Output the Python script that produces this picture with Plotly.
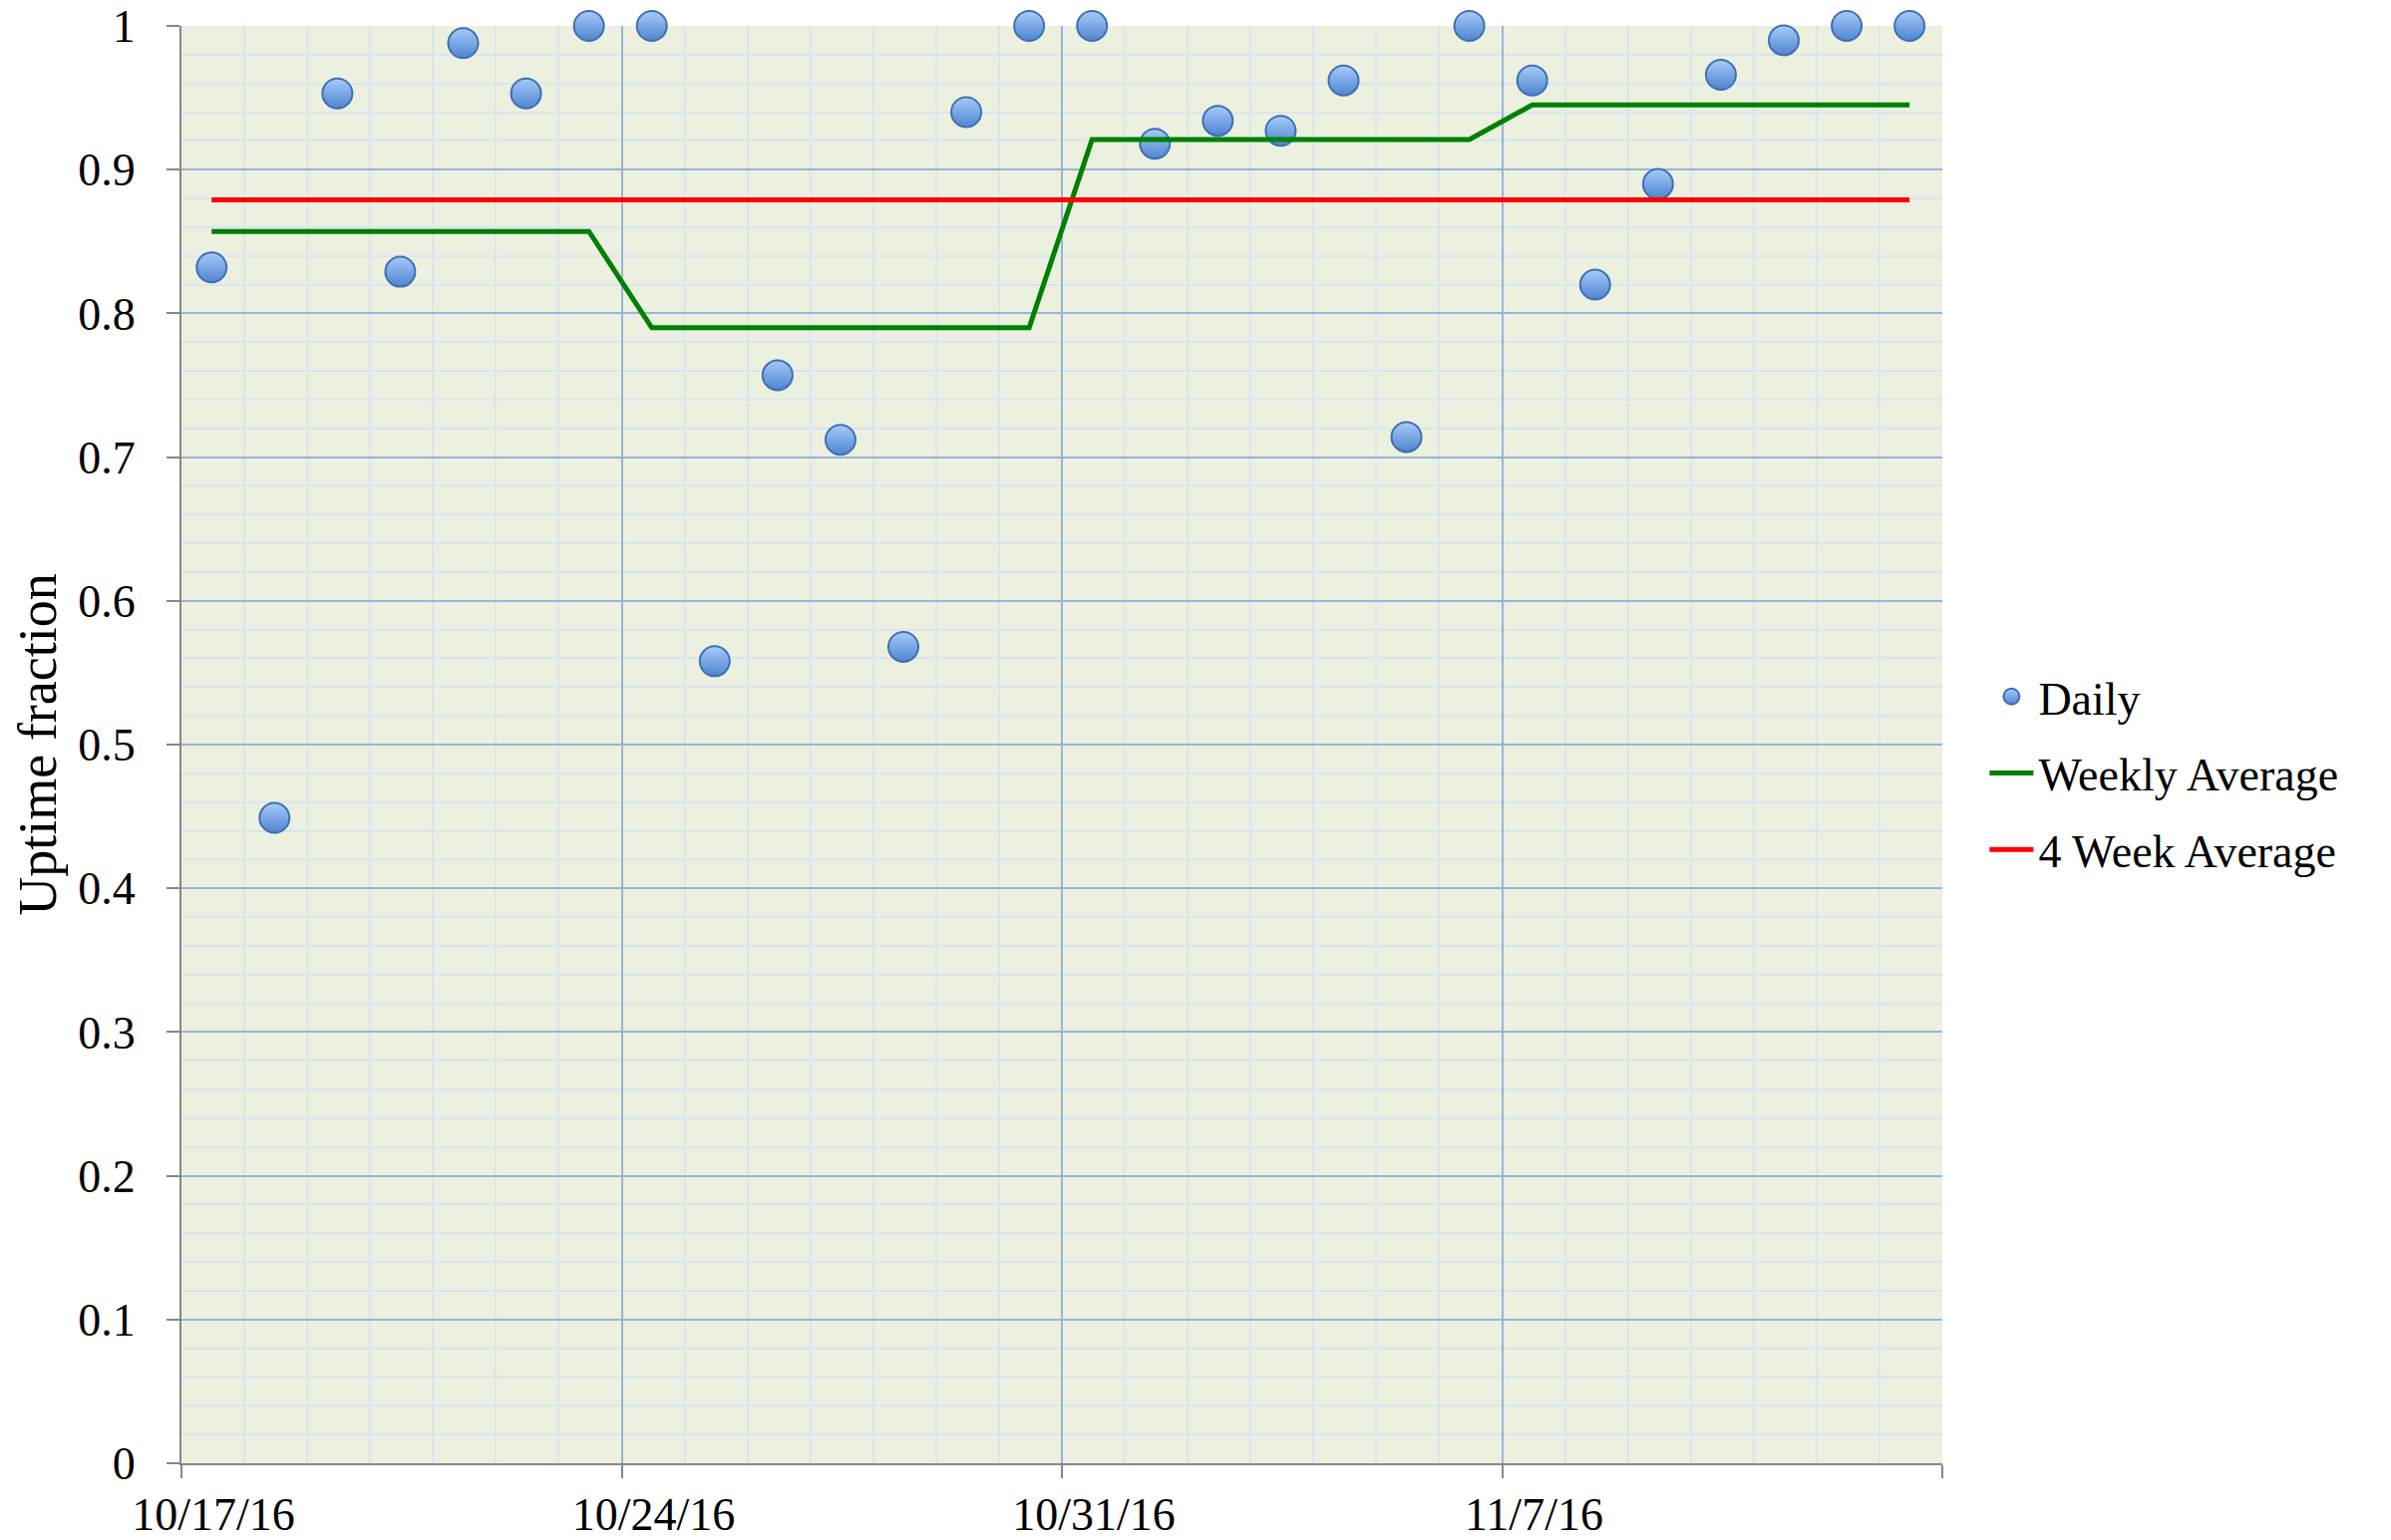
import plotly.graph_objects as go

# ---- data ----
days = [
    "2016-10-17 11:30", "2016-10-18 11:30", "2016-10-19 11:30", "2016-10-20 11:30",
    "2016-10-21 11:30", "2016-10-22 11:30", "2016-10-23 11:30",
    "2016-10-24 11:30", "2016-10-25 11:30", "2016-10-26 11:30", "2016-10-27 11:30",
    "2016-10-28 11:30", "2016-10-29 11:30", "2016-10-30 11:30",
    "2016-10-31 11:30", "2016-11-01 11:30", "2016-11-02 11:30", "2016-11-03 11:30",
    "2016-11-04 11:30", "2016-11-05 11:30", "2016-11-06 11:30",
    "2016-11-07 11:30", "2016-11-08 11:30", "2016-11-09 11:30", "2016-11-10 11:30",
    "2016-11-11 11:30", "2016-11-12 11:30", "2016-11-13 11:30",
]
daily = [0.832, 0.449, 0.953, 0.829, 0.988, 0.953, 1.000,
         1.000, 0.558, 0.757, 0.712, 0.568, 0.940, 1.000,
         1.000, 0.918, 0.934, 0.927, 0.962, 0.714, 1.000,
         0.962, 0.820, 0.890, 0.966, 0.990, 1.000, 1.000]
weekly_avg = [0.857, 0.857, 0.857, 0.857, 0.857, 0.857, 0.857,
              0.790, 0.790, 0.790, 0.790, 0.790, 0.790, 0.790,
              0.921, 0.921, 0.921, 0.921, 0.921, 0.921, 0.921,
              0.945, 0.945, 0.945, 0.945, 0.945, 0.945, 0.945]
four_week_avg = [0.879] * 28

tick_dates = ["2016-10-17", "2016-10-24", "2016-10-31", "2016-11-07", "2016-11-14"]
tick_text = ["10/17/16", "10/24/16", "10/31/16", "11/7/16", ""]

FONT = "Liberation Serif, Times New Roman, serif"
MAJOR_GRID = "#98B4D8"
MINOR_GRID = "#DAE5F2"
AXIS_GRAY = "#878787"

fig = go.Figure()
fig.add_trace(go.Scatter(
    x=days, y=daily, mode="markers", name="Daily", legendgroup="a",
    marker=dict(size=30, color="#A7CBFA",
                gradient=dict(type="vertical", color="#4E84CF"),
                line=dict(color="#3F6FB3", width=2)),
    cliponaxis=False,
))
fig.add_trace(go.Scatter(
    x=days, y=weekly_avg, mode="lines", name="Weekly Average", legendgroup="b",
    line=dict(color="#008000", width=5),
))
fig.add_trace(go.Scatter(
    x=days, y=four_week_avg, mode="lines", name="4 Week Average", legendgroup="c",
    line=dict(color="#FF0000", width=5),
))

fig.update_layout(
    width=2390, height=1537,
    margin=dict(l=174, r=450, t=18, b=77, autoexpand=False),
    paper_bgcolor="white",
    plot_bgcolor="#EBF0DF",
    font=dict(family=FONT, size=46, color="black"),
    legend=dict(x=1.024, xanchor="left", y=0.48, yanchor="middle",
                font=dict(size=46), traceorder="grouped", tracegroupgap=14,
                bgcolor="rgba(0,0,0,0)", itemwidth=44),
    showlegend=True,
)
fig.update_xaxes(
    type="date", automargin=False,
    range=["2016-10-17", "2016-11-14"],
    tickmode="array", tickvals=tick_dates, ticktext=tick_text,
    ticks="outside", ticklen=13, tickwidth=2, tickcolor=AXIS_GRAY,
    ticklabelshift=32, ticklabelstandoff=-3, ticklabeloverflow="allow",
    showline=True, linecolor=AXIS_GRAY, linewidth=2,
    showgrid=True, gridcolor=MAJOR_GRID, gridwidth=2,
    minor=dict(tickmode="linear", dtick=86400000, tick0="2016-10-17", showgrid=True,
               gridcolor=MINOR_GRID, gridwidth=2, ticks=""),
    zeroline=False,
)
fig.update_yaxes(
    automargin=False,
    range=[0, 1], tickmode="linear", dtick=0.1, tick0=0,
    ticks="outside", ticklen=13, tickwidth=2, tickcolor=AXIS_GRAY,
    ticklabelstandoff=22, ticklabeloverflow="allow",
    showline=True, linecolor=AXIS_GRAY, linewidth=2,
    showgrid=True, gridcolor=MAJOR_GRID, gridwidth=2,
    minor=dict(tickmode="linear", tick0=0, dtick=0.02, showgrid=True,
               gridcolor=MINOR_GRID, gridwidth=2, ticks=""),
    zeroline=False,
    title=dict(text="Uptime fraction", font=dict(size=54), standoff=6),
)

fig.write_html("out.html")
